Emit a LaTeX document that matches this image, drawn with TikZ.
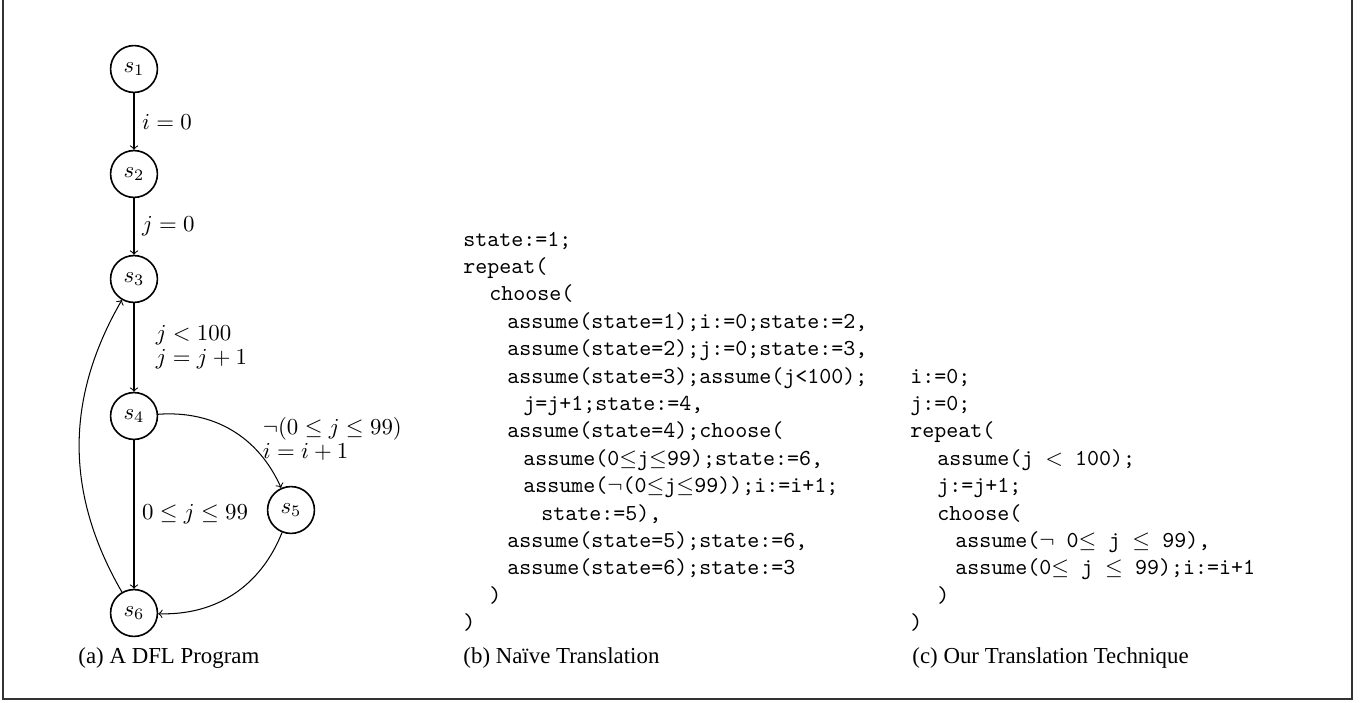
\documentclass[tikz,border=0pt]{standalone}
\usepackage{fontspec}
\newfontfamily\capfont{Liberation Serif}
\begin{document}
\begin{tikzpicture}[x=0.4375pt, y=0.4375pt,
  st/.style={circle, draw, line width=0.7pt, minimum size=20.5pt, inner sep=0pt},
  tr/.style={->, line width=0.45pt},
  lbl/.style={right, inner sep=3.3pt, align=left, font=\fontsize{10}{10.5}\selectfont},
  codeline/.style={anchor=base west, inner sep=0pt, font=\ttfamily\fontsize{10}{12}\selectfont},
  subcap/.style={anchor=base west, inner sep=0pt, font=\capfont\fontsize{10}{12}\selectfont},
  outline/.style={draw=black!80, line width=0.6pt}]
\useasboundingbox (0,0) rectangle (1364,702);

% open frame round the three panels
\draw[outline] (3,702) -- (3,3) -- (1352,3) -- (1352,702);

% (a) control-flow graph
\node[st] (s1) at (134,633) {$s_1$};
\node[st] (s2) at (134,528) {$s_2$};
\node[st] (s3) at (134,423) {$s_3$};
\node[st] (s4) at (134,286) {$s_4$};
\node[st] (s5) at (291,192) {$s_5$};
\node[st] (s6) at (134,89)  {$s_6$};

\draw[tr] (s1) -- node[lbl] {$i=0$} (s2);
\draw[tr] (s2) -- node[lbl] {$j=0$} (s3);
\draw[tr] (s3) -- node[lbl, xshift=6pt] {$j<100$\\$j=j+1$} (s4);
\draw[tr] (s4) -- node[lbl] {$0\leq j\leq 99$} (s6);
\draw[tr] (s4) to[bend left=35]
  node[pos=0.62, anchor=south west, inner sep=1pt, xshift=6pt, yshift=-10pt, align=left,
       font=\fontsize{10}{10.5}\selectfont]
  {$\neg(0\leq j\leq 99)$\\$i=i+1$} (s5);
\draw[tr] (s5) to[bend left=35] (s6);
\draw[tr] (s6) to[bend left=30] (s3);

% (b) naive translation
\foreach \dx/\txt [count=\i from 0] in {
  0/{state:=1;},
  0/{repeat(},
  26/{choose(},
  44/{assume(state=1);i:=0;state:=2,},
  44/{assume(state=2);j:=0;state:=3,},
  44/{assume(state=3);assume(j<100);},
  60/{j=j+1;state:=4,},
  44/{assume(state=4);choose(},
  60/{assume(0$\leq$j$\leq$99);state:=6,},
  60/{assume($\neg$(0$\leq$j$\leq$99));i:=i+1;},
  78/{state:=5),},
  44/{assume(state=5);state:=6,},
  44/{assume(state=6);state:=3},
  26/{)},
  0/{)}}
  \node[codeline] (b\i) at ({463+\dx},{456-27.4*\i}) {\txt};

% (c) our translation
\foreach \dx/\txt [count=\i from 0] in {
  0/{i:=0;},
  0/{j:=0;},
  0/{repeat(},
  27/{assume(j $<$ 100);},
  27/{j:=j+1;},
  27/{choose(},
  45/{assume($\neg$ 0$\leq$ j $\leq$ 99),},
  45/{assume(0$\leq$ j $\leq$ 99);i:=i+1},
  27/{)},
  0/{)}}
  \node[codeline] (c\i) at ({910+\dx},{319-27.4*\i}) {\txt};

% sub-captions
\node[subcap] (capa) at (78,39)  {(a) A DFL Program};
\node[subcap] (capb) at (463,39) {(b) Naïve Translation};
\node[subcap] (capc) at (912,39) {(c) Our Translation Technique};
\end{tikzpicture}
\end{document}
